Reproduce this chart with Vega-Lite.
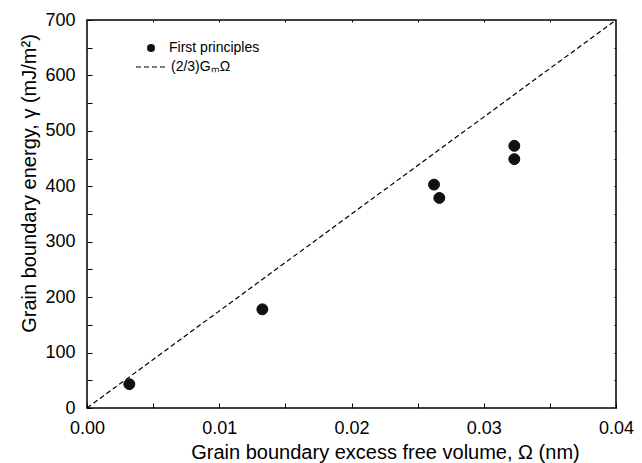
{
  "$schema": "https://vega.github.io/schema/vega-lite/v6.json",
  "autosize": "none",
  "width": 529,
  "height": 388,
  "padding": {"left": 87, "top": 20, "right": 26, "bottom": 55},
  "background": "white",
  "config": {
    "font": "Liberation Sans",
    "view": {"stroke": "black", "strokeWidth": 1.5},
    "axis": {"domain": false, "grid": false, "tickColor": "black", "tickWidth": 1, "labelColor": "black", "titleColor": "black", "labelFont": "Liberation Sans", "titleFont": "Liberation Sans", "titleFontWeight": "normal", "labelFontSize": 18, "titleFontSize": 20}
  },
  "datasets": {
    "pts": [
      {"omega": 0.0032, "gamma": 43, "series": "First principles"},
      {"omega": 0.01326, "gamma": 178, "series": "First principles"},
      {"omega": 0.02624, "gamma": 403, "series": "First principles"},
      {"omega": 0.02664, "gamma": 379, "series": "First principles"},
      {"omega": 0.03231, "gamma": 473, "series": "First principles"},
      {"omega": 0.03231, "gamma": 449, "series": "First principles"}
    ],
    "fit": [
      {"omega": 0, "gamma": 0, "model": "(2/3)GₘΩ"},
      {"omega": 0.04, "gamma": 700, "model": "(2/3)GₘΩ"}
    ]
  },
  "layer": [
    {
      "data": {"name": "fit"},
      "mark": {"type": "line", "color": "black", "strokeWidth": 1.2, "clip": true},
      "encoding": {
        "x": {"field": "omega", "type": "quantitative", "scale": {"domain": [0, 0.04], "nice": false},
          "axis": {"orient": "bottom", "offset": -5, "tickSize": 5, "labelPadding": 11, "title": "Grain boundary excess free volume, Ω  (nm)", "titleX": 298, "titleY": 55, "titleBaseline": "alphabetic", "values": [0, 0.005, 0.01, 0.015, 0.02, 0.025, 0.03, 0.035, 0.04], "labelExpr": "(round(datum.value*1000) % 10 == 0) ? format(datum.value, '.2f') : ''", "labelFlush": false, "labelOverlap": false}},
        "y": {"field": "gamma", "type": "quantitative", "scale": {"domain": [0, 700], "nice": false},
          "axis": {"orient": "left", "offset": -5, "tickSize": 5, "labelPadding": 12, "title": "Grain boundary energy, γ  (mJ/m²)", "titleX": -57, "titleY": 163, "titleAngle": -90, "titleBaseline": "alphabetic", "titleAlign": "center", "values": [0, 50, 100, 150, 200, 250, 300, 350, 400, 450, 500, 550, 600, 650, 700], "labelExpr": "datum.value % 100 == 0 ? datum.label : ''", "labelOverlap": false}},
        "strokeDash": {"field": "model", "type": "nominal", "scale": {"range": [[5, 3]]},
          "legend": {"title": null, "orient": "none", "legendX": 48, "legendY": 31, "padding": 0, "labelFontSize": 14, "labelFont": "Liberation Sans", "labelColor": "black", "symbolType": "stroke", "symbolSize": 900, "symbolStrokeColor": "black", "symbolStrokeWidth": 1.2, "labelOffset": 4}}
      }
    },
    {
      "data": {"name": "pts"},
      "mark": {"type": "point", "filled": true, "fill": "#111111", "stroke": "#111111", "strokeWidth": 1, "opacity": 1, "size": 120},
      "encoding": {
        "x": {"field": "omega", "type": "quantitative", "axis": null},
        "y": {"field": "gamma", "type": "quantitative", "axis": null},
        "shape": {"field": "series", "type": "nominal", "scale": {"range": ["circle"]},
          "legend": {"title": null, "orient": "none", "legendX": 57, "legendY": 21, "padding": 0, "labelFontSize": 14, "labelFont": "Liberation Sans", "labelColor": "black", "symbolSize": 64, "symbolFillColor": "black", "symbolStrokeColor": "black", "labelOffset": 11}}
      }
    },
    {
      "data": {"name": "pts"},
      "mark": {"type": "point", "opacity": 0},
      "encoding": {
        "x": {"field": "omega", "type": "quantitative", "axis": {"orient": "top", "offset": -2, "tickSize": 2, "title": null, "labels": false, "values": [0.005, 0.01, 0.015, 0.02, 0.025, 0.03, 0.035]}},
        "y": {"field": "gamma", "type": "quantitative", "axis": {"orient": "right", "offset": -2, "tickSize": 2, "title": null, "labels": false, "values": [50, 100, 150, 200, 250, 300, 350, 400, 450, 500, 550, 600, 650]}}
      }
    }
  ],
  "resolve": {"axis": {"x": "independent", "y": "independent"}}
}
